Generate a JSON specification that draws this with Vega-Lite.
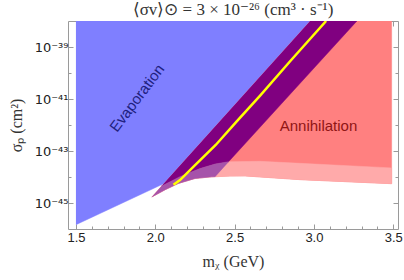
{
  "$schema": "https://vega.github.io/schema/vega-lite/v6.json",
  "width": 330,
  "height": 208,
  "autosize": {"type": "none"},
  "padding": {"left": 68, "top": 21, "right": 6, "bottom": 51},
  "background": "white",
  "config": {
    "view": {"stroke": "#9a9a9a", "strokeWidth": 1},
    "axis": {"grid": false, "domain": false, "labelFont": "Liberation Sans", "labelFontSize": 13, "labelColor": "#222222", "tickColor": "#9a9a9a", "titleFont": "Liberation Serif", "titleFontSize": 16, "titleFontWeight": "normal", "titleColor": "#333333"}
  },
  "title": {"text": "⟨σv⟩⊙ = 3 × 10⁻²⁶ (cm³ · s⁻¹)", "font": "Liberation Serif", "fontSize": 17, "fontWeight": "normal", "color": "#333333", "anchor": "middle", "offset": 2},
  "datasets": {
    "red": [
      {"i": 1, "m": 2.976, "sigma": 1e-38},
      {"i": 2, "m": 3.49, "sigma": 1e-38},
      {"i": 3, "m": 3.49, "sigma": 5.53e-45},
      {"i": 4, "m": 2.913, "sigma": 7.91e-45},
      {"i": 5, "m": 2.566, "sigma": 1.10e-44},
      {"i": 6, "m": 2.472, "sigma": 1.081e-44},
      {"i": 7, "m": 2.356, "sigma": 1.015e-44},
      {"i": 8, "m": 2.251, "sigma": 8.80e-45},
      {"i": 9, "m": 2.145, "sigma": 5.64e-45},
      {"i": 10, "m": 2.062, "sigma": 3.24e-45},
      {"i": 11, "m": 1.978, "sigma": 1.706e-45}
    ],
    "pink": [
      {"i": 1, "m": 2.038, "sigma": 4.43e-45},
      {"i": 2, "m": 2.156, "sigma": 1.033e-44},
      {"i": 3, "m": 2.282, "sigma": 2.11e-44},
      {"i": 4, "m": 2.377, "sigma": 3.15e-44},
      {"i": 5, "m": 2.462, "sigma": 3.86e-44},
      {"i": 6, "m": 2.661, "sigma": 4.01e-44},
      {"i": 7, "m": 2.913, "sigma": 3.35e-44},
      {"i": 8, "m": 3.49, "sigma": 2.24e-44},
      {"i": 9, "m": 3.49, "sigma": 5.53e-45},
      {"i": 10, "m": 2.913, "sigma": 7.91e-45},
      {"i": 11, "m": 2.566, "sigma": 1.10e-44},
      {"i": 12, "m": 2.472, "sigma": 1.081e-44},
      {"i": 13, "m": 2.356, "sigma": 1.015e-44},
      {"i": 14, "m": 2.251, "sigma": 8.80e-45},
      {"i": 15, "m": 2.145, "sigma": 5.64e-45},
      {"i": 16, "m": 2.062, "sigma": 3.24e-45},
      {"i": 17, "m": 1.978, "sigma": 1.706e-45}
    ],
    "blue": [
      {"i": 1, "m": 1.5, "sigma": 1e-38},
      {"i": 2, "m": 2.976, "sigma": 1e-38},
      {"i": 3, "m": 2.052, "sigma": 5.49e-45},
      {"i": 4, "m": 1.5, "sigma": 1.459e-46}
    ],
    "purple": [
      {"i": 1, "m": 2.976, "sigma": 1e-38},
      {"i": 2, "m": 3.271, "sigma": 1e-38},
      {"i": 3, "m": 2.462, "sigma": 3.86e-44},
      {"i": 4, "m": 2.377, "sigma": 3.15e-44},
      {"i": 5, "m": 2.282, "sigma": 2.11e-44},
      {"i": 6, "m": 2.156, "sigma": 1.033e-44},
      {"i": 7, "m": 2.038, "sigma": 4.43e-45}
    ],
    "lightpurple": [
      {"i": 1, "m": 2.038, "sigma": 4.43e-45},
      {"i": 2, "m": 2.156, "sigma": 1.033e-44},
      {"i": 3, "m": 2.282, "sigma": 2.11e-44},
      {"i": 4, "m": 2.377, "sigma": 3.15e-44},
      {"i": 5, "m": 2.462, "sigma": 3.86e-44},
      {"i": 6, "m": 2.377, "sigma": 1.033e-44},
      {"i": 7, "m": 2.356, "sigma": 1.015e-44},
      {"i": 8, "m": 2.251, "sigma": 8.80e-45},
      {"i": 9, "m": 2.145, "sigma": 5.64e-45},
      {"i": 10, "m": 2.062, "sigma": 3.24e-45},
      {"i": 11, "m": 1.978, "sigma": 1.706e-45}
    ],
    "yellow": [
      {"i": 1, "m": 2.115, "sigma": 5.01e-45},
      {"i": 2, "m": 2.156, "sigma": 7.59e-45},
      {"i": 3, "m": 2.251, "sigma": 2.88e-44},
      {"i": 4, "m": 2.381, "sigma": 1.70e-43},
      {"i": 5, "m": 2.522, "sigma": 1.58e-42},
      {"i": 6, "m": 2.661, "sigma": 1.35e-41},
      {"i": 7, "m": 2.85, "sigma": 2.82e-40},
      {"i": 8, "m": 3.077, "sigma": 1e-38}
    ]
  },
  "resolve": {"axis": {"x": "independent", "y": "independent"}},
  "layer": [
    {
      "data": {"name": "blue"},
      "mark": {"type": "line", "fill": "#7f7fff", "stroke": "#7f7fff", "strokeWidth": 0.5, "clip": true},
      "encoding": {
        "x": {"field": "m", "type": "quantitative", "scale": {"domain": [1.45, 3.53], "nice": false, "zero": false},
          "axis": {"orient": "bottom", "values": [1.5,1.6,1.7,1.8,1.9,2.0,2.1,2.2,2.3,2.4,2.5,2.6,2.7,2.8,2.9,3.0,3.1,3.2,3.3,3.4,3.5],
            "labelExpr": "abs(datum.value*2 - round(datum.value*2)) < 0.001 ? format(datum.value, '.1f') : ''",
            "tickSize": {"condition": {"test": "abs(datum.value*2 - round(datum.value*2)) < 0.001", "value": -5}, "value": -3},
            "labelPadding": 7, "title": "mᵪ (GeV)", "titlePadding": 9}},
        "y": {"field": "sigma", "type": "quantitative", "scale": {"type": "log", "domain": [1e-46, 1e-38], "nice": false},
          "axis": {"orient": "left", "values": [1e-45, 1e-44, 1e-43, 1e-42, 1e-41, 1e-40, 1e-39],
            "labelExpr": "round(log(datum.value)/LN10) == -39 ? '10⁻³⁹' : round(log(datum.value)/LN10) == -41 ? '10⁻⁴¹' : round(log(datum.value)/LN10) == -43 ? '10⁻⁴³' : round(log(datum.value)/LN10) == -45 ? '10⁻⁴⁵' : ''",
            "labelFont": "DejaVu Sans", "labelFontSize": 13,
            "tickSize": {"condition": {"test": "round(log(datum.value)/LN10) % 2 != 0", "value": -5}, "value": -3},
            "labelPadding": 5, "title": "σₚ (cm²)", "titlePadding": 10}},
        "order": {"field": "i", "type": "quantitative"}
      }
    },
    {
      "data": {"name": "red"},
      "mark": {"type": "line", "fill": "#ff8080", "stroke": "#ff8080", "strokeWidth": 0.5, "clip": true},
      "encoding": {
        "x": {"field": "m", "type": "quantitative", "axis": null},
        "y": {"field": "sigma", "type": "quantitative", "axis": null},
        "order": {"field": "i", "type": "quantitative"}
      }
    },
    {
      "data": {"name": "pink"},
      "mark": {"type": "line", "fill": "#ffaaaa", "stroke": "#ffaaaa", "strokeWidth": 0.5, "clip": true},
      "encoding": {
        "x": {"field": "m", "type": "quantitative", "axis": null},
        "y": {"field": "sigma", "type": "quantitative", "axis": null},
        "order": {"field": "i", "type": "quantitative"}
      }
    },
    {
      "data": {"name": "purple"},
      "mark": {"type": "line", "fill": "#800080", "stroke": "#800080", "strokeWidth": 0.5, "clip": true},
      "encoding": {
        "x": {"field": "m", "type": "quantitative", "axis": null},
        "y": {"field": "sigma", "type": "quantitative", "axis": null},
        "order": {"field": "i", "type": "quantitative"}
      }
    },
    {
      "data": {"name": "lightpurple"},
      "mark": {"type": "line", "fill": "#a653aa", "stroke": "#a653aa", "strokeWidth": 0.5, "clip": true},
      "encoding": {
        "x": {"field": "m", "type": "quantitative", "axis": null},
        "y": {"field": "sigma", "type": "quantitative", "axis": null},
        "order": {"field": "i", "type": "quantitative"}
      }
    },
    {
      "data": {"name": "yellow"},
      "mark": {"type": "line", "stroke": "#ffff00", "strokeWidth": 2.5, "clip": true},
      "encoding": {
        "x": {"field": "m", "type": "quantitative",
          "axis": {"orient": "top", "values": [1.5,1.6,1.7,1.8,1.9,2.0,2.1,2.2,2.3,2.4,2.5,2.6,2.7,2.8,2.9,3.0,3.1,3.2,3.3,3.4,3.5], "labels": false, "title": null,
            "tickSize": {"condition": {"test": "abs(datum.value*2 - round(datum.value*2)) < 0.001", "value": -5}, "value": -3}}},
        "y": {"field": "sigma", "type": "quantitative",
          "axis": {"orient": "right", "values": [1e-45, 1e-44, 1e-43, 1e-42, 1e-41, 1e-40, 1e-39], "labels": false, "title": null,
            "tickSize": {"condition": {"test": "round(log(datum.value)/LN10) % 2 != 0", "value": -5}, "value": -3}}},
        "order": {"field": "i", "type": "quantitative"}
      }
    },
    {
      "data": {"values": [{"m": 1.885, "sigma": 1.08e-41, "label": "Evaporation"}]},
      "mark": {"type": "text", "angle": -53, "font": "Liberation Sans", "fontSize": 15, "color": "#1f1f80", "align": "center", "baseline": "middle"},
      "encoding": {
        "x": {"field": "m", "type": "quantitative", "axis": null},
        "y": {"field": "sigma", "type": "quantitative", "axis": null},
        "text": {"field": "label"}
      }
    },
    {
      "data": {"values": [{"m": 3.029, "sigma": 9.31e-43, "label": "Annihilation"}]},
      "mark": {"type": "text", "font": "Liberation Sans", "fontSize": 15, "color": "#901515", "align": "center", "baseline": "middle"},
      "encoding": {
        "x": {"field": "m", "type": "quantitative", "axis": null},
        "y": {"field": "sigma", "type": "quantitative", "axis": null},
        "text": {"field": "label"}
      }
    }
  ]
}
